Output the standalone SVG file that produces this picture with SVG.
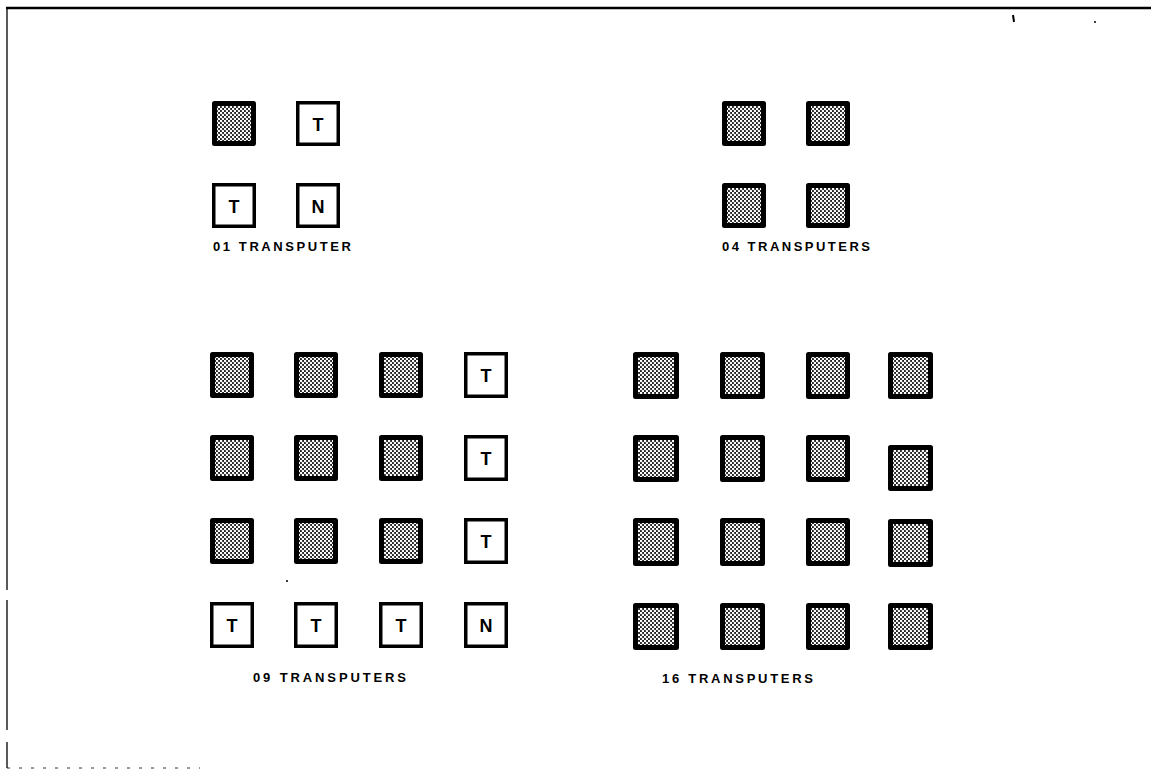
<svg xmlns="http://www.w3.org/2000/svg" width="1151" height="771" viewBox="0 0 1151 771">
<defs>
<pattern id="stip" width="4" height="4" patternUnits="userSpaceOnUse">
<rect width="4" height="4" fill="#222"/>
<circle cx="1" cy="1" r="1.25" fill="#fff"/>
<circle cx="3" cy="3" r="1.25" fill="#fff"/>
</pattern>
</defs>
<style>
.sh{fill:url(#stip);stroke:#000;stroke-width:5;stroke-linejoin:round}
.wb{fill:#fff;stroke:#000;stroke-width:3.5}
.lt{font-family:"Liberation Sans",Arial,sans-serif;font-weight:bold;font-size:18px;text-anchor:middle;fill:#000}
.lab{font-family:"Liberation Sans",Arial,sans-serif;font-weight:bold;font-size:13px;fill:#000}
.frame{stroke:#000;fill:none}
</style>
<rect width="1151" height="771" fill="#fff"/>
<g id="frame">
<line class="frame" x1="6" y1="8" x2="1151" y2="8" stroke-width="2.5"/>
<line class="frame" x1="7" y1="8" x2="7" y2="590" stroke-width="1.3"/>
<line class="frame" x1="7" y1="600" x2="7" y2="730" stroke-width="1.3"/>
<line class="frame" x1="7" y1="742" x2="7" y2="768" stroke-width="1.3"/>
<line class="frame" x1="7" y1="768" x2="200" y2="768" stroke-width="0.8" stroke-dasharray="3 9"/>
<line x1="1013" y1="15" x2="1014" y2="22" stroke="#000" stroke-width="2"/>
<circle cx="1095" cy="22" r="1" fill="#000"/>
<circle cx="287" cy="581" r="1" fill="#000"/>
</g>
<g id="g01">
<rect class="sh" x="214.5" y="103.5" width="39" height="40"/>
<rect class="wb" x="297.75" y="102.75" width="40.5" height="41.5"/>
<text class="lt" x="318" y="131">T</text>
<rect class="wb" x="213.75" y="184.75" width="40.5" height="41.5"/>
<text class="lt" x="234" y="213">T</text>
<rect class="wb" x="297.75" y="184.75" width="40.5" height="41.5"/>
<text class="lt" x="318" y="213">N</text>
<text class="lab" x="213" y="251" textLength="138" lengthAdjust="spacing">01 TRANSPUTER</text>
</g>
<g id="g04">
<rect class="sh" x="724.5" y="103.5" width="39" height="40"/>
<rect class="sh" x="808.5" y="103.5" width="39" height="40"/>
<rect class="sh" x="724.5" y="185.5" width="39" height="40"/>
<rect class="sh" x="808.5" y="185.5" width="39" height="40"/>
<text class="lab" x="722" y="251" textLength="148" lengthAdjust="spacing">04 TRANSPUTERS</text>
</g>
<g id="g09">
<rect class="sh" x="212.5" y="354.5" width="39" height="41"/>
<rect class="sh" x="296.5" y="354.5" width="39" height="41"/>
<rect class="sh" x="381.5" y="354.5" width="39" height="41"/>
<rect class="wb" x="465.75" y="353.75" width="40.5" height="42.5"/>
<text class="lt" x="486" y="382">T</text>
<rect class="sh" x="212.5" y="437.5" width="39" height="41"/>
<rect class="sh" x="296.5" y="437.5" width="39" height="41"/>
<rect class="sh" x="381.5" y="437.5" width="39" height="41"/>
<rect class="wb" x="465.75" y="436.75" width="40.5" height="42.5"/>
<text class="lt" x="486" y="465">T</text>
<rect class="sh" x="212.5" y="520.5" width="39" height="41"/>
<rect class="sh" x="296.5" y="520.5" width="39" height="41"/>
<rect class="sh" x="381.5" y="520.5" width="39" height="41"/>
<rect class="wb" x="465.75" y="519.75" width="40.5" height="42.5"/>
<text class="lt" x="486" y="548">T</text>
<rect class="wb" x="211.75" y="603.75" width="40.5" height="42.5"/>
<text class="lt" x="232" y="632">T</text>
<rect class="wb" x="295.75" y="603.75" width="40.5" height="42.5"/>
<text class="lt" x="316" y="632">T</text>
<rect class="wb" x="380.75" y="603.75" width="40.5" height="42.5"/>
<text class="lt" x="401" y="632">T</text>
<rect class="wb" x="465.75" y="603.75" width="40.5" height="42.5"/>
<text class="lt" x="486" y="632">N</text>
<text class="lab" x="253" y="682" textLength="153" lengthAdjust="spacing">09 TRANSPUTERS</text>
</g>
<g id="g16">
<rect class="sh" x="635.5" y="354.5" width="41" height="42"/>
<rect class="sh" x="722.5" y="354.5" width="40" height="42"/>
<rect class="sh" x="808.5" y="354.5" width="39" height="42"/>
<rect class="sh" x="890.5" y="354.5" width="40" height="42"/>
<rect class="sh" x="635.5" y="437.5" width="41" height="42"/>
<rect class="sh" x="722.5" y="437.5" width="40" height="42"/>
<rect class="sh" x="808.5" y="437.5" width="39" height="42"/>
<rect class="sh" x="890.5" y="447.5" width="40" height="41"/>
<rect class="sh" x="635.5" y="520.5" width="41" height="43"/>
<rect class="sh" x="722.5" y="520.5" width="40" height="43"/>
<rect class="sh" x="808.5" y="520.5" width="39" height="43"/>
<rect class="sh" x="890.5" y="521.5" width="40" height="43"/>
<rect class="sh" x="635.5" y="605.5" width="41" height="42"/>
<rect class="sh" x="722.5" y="605.5" width="40" height="42"/>
<rect class="sh" x="808.5" y="605.5" width="39" height="42"/>
<rect class="sh" x="890.5" y="605.5" width="40" height="42"/>
<text class="lab" x="662" y="683" textLength="151" lengthAdjust="spacing">16 TRANSPUTERS</text>
</g>
</svg>
